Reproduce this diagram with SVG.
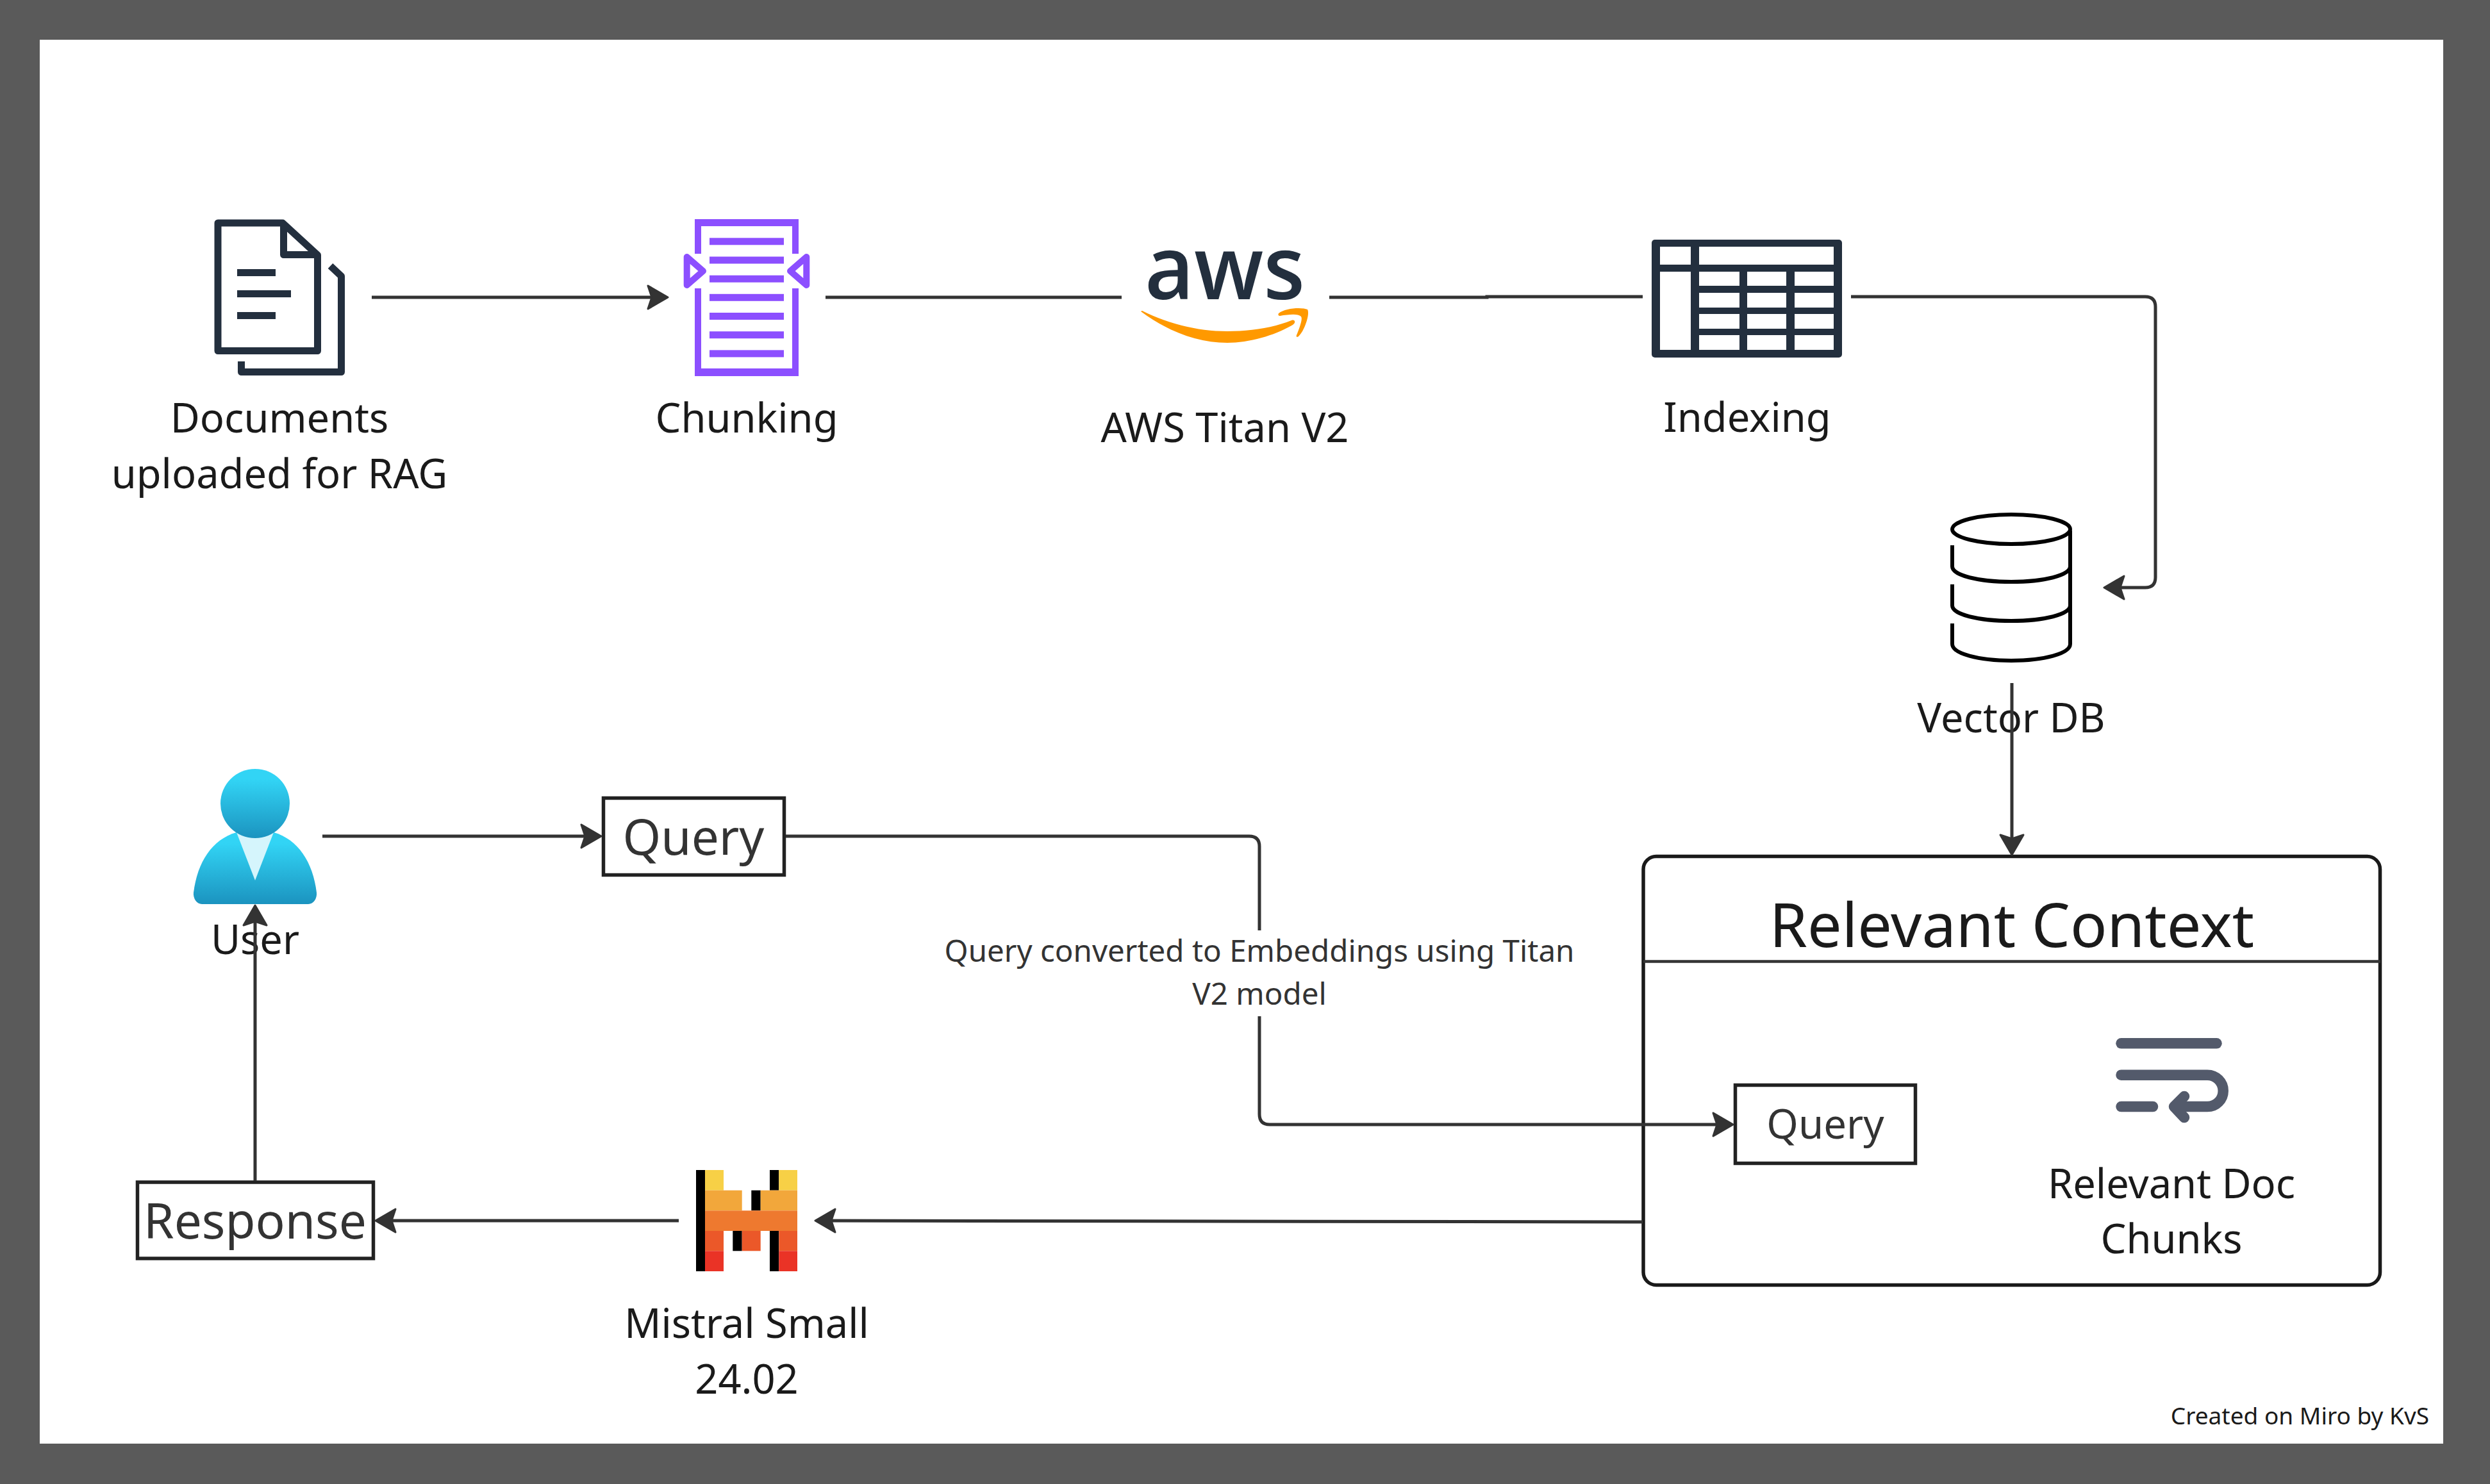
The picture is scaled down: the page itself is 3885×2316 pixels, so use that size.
<svg xmlns="http://www.w3.org/2000/svg" width="3885" height="2316" viewBox="0 0 3885 2316">
<style>
text{font-family:"Noto Sans","Open Sans","Liberation Sans",sans-serif;text-anchor:middle}
.lab{font-size:63.200px;fill:#1a1a1a}
.box{font-size:76.500px;fill:#333}
.bx{fill:#fff;stroke:#222;stroke-width:5.5}
.con{fill:none;stroke:#333;stroke-width:5}
.d{fill:#232F3E}
.ds{fill:none;stroke:#232F3E;stroke-width:11;stroke-linejoin:round}
.p{fill:#8C4FFF}
.ps{fill:none;stroke:#8C4FFF;stroke-width:10;stroke-linejoin:round}
.w{fill:#fff}
.db{fill:none;stroke:#000;stroke-width:6}
.ic{fill:none;stroke:#535A6B;stroke-width:16.5;stroke-linecap:round;stroke-linejoin:round}
</style>
<defs>
<marker id="arr" markerUnits="userSpaceOnUse" viewBox="0 0 36 42" markerWidth="36" markerHeight="42" refX="28" refY="21" orient="auto">
<path d="M2,3 L33,21 L2,39 L8,21Z" fill="#333" stroke="#333" stroke-width="3" stroke-linejoin="round"/>
</marker>
<linearGradient id="ug" x1="0" y1="0" x2="0" y2="1"><stop offset="0.15" stop-color="#32D4F5"/><stop offset="1" stop-color="#1B93BF"/></linearGradient>
</defs>
<rect width="3885" height="2316" fill="#5a5a5a"/>
<rect x="62" y="62" width="3750" height="2191" fill="#fff"/>

<g id="documents">
<path class="ds" d="M340,348 H441 L495.500,398 V547.500 H340Z"/>
<path class="ds" d="M442.500,350 V397.500 H495"/>
<path class="ds" d="M515.500,415 L532.500,431 V580.500 H376.500 V564"/>
<rect class="d" x="370" y="420" width="60" height="11"/>
<rect class="d" x="370" y="453" width="84" height="11"/>
<rect class="d" x="370" y="487" width="60" height="11"/>
<text class="lab" x="436" y="675">Documents</text>
<text class="lab" x="436" y="762">uploaded for RAG</text>
</g>

<g id="chunking">
<path class="p" d="M1084,396 V342 H1246 V396 H1236 V353 H1094 V396Z"/>
<path class="p" d="M1084,450 V587 H1246 V450 H1236 V575 H1094 V450Z"/>
<rect class="p" x="1107" y="371.300" width="116" height="11"/>
<rect class="p" x="1107" y="400.500" width="116" height="11"/>
<rect class="p" x="1107" y="429.700" width="116" height="11"/>
<rect class="p" x="1107" y="458.800" width="116" height="11"/>
<rect class="p" x="1107" y="488" width="116" height="11"/>
<rect class="p" x="1107" y="517.200" width="116" height="11"/>
<rect class="p" x="1107" y="546.400" width="116" height="11"/>
<path class="ps" d="M1071.700,401 V445 L1097,423Z"/>
<path class="ps" d="M1258.300,401 V445 L1233,423Z"/>
<text class="lab" x="1165" y="675">Chunking</text>
</g>

<g id="aws">
<text x="1911" y="467" font-size="138" font-weight="600" textLength="250" lengthAdjust="spacingAndGlyphs" style="font-family:'Open Sans','Noto Sans',sans-serif" fill="#232F3E">aws</text>
<path fill="#FF9900" d="M1780,486 C1822,517 1868,535 1915,535 C1950,535 1990,523 2017,507 C2022,504 2021,498 2015,500 C1985,512 1950,517 1915,517 C1868,517 1822,505 1782,485Z"/>
<path fill="#FF9900" d="M1995,489 C2005,481 2030,479 2040,483 C2044,490 2036,515 2026,525 C2023,527 2022,525 2023,523 C2027,513 2033,498 2030,494 C2025,489 2010,491 1997,493 C1994,493 1994,491 1995,489Z"/>
<text class="lab" x="1911" y="690">AWS Titan V2</text>
</g>

<g id="indexing">
<rect class="d" x="2577" y="374" width="297" height="184" rx="5"/>
<rect class="w" x="2590" y="385" width="48" height="28"/>
<rect class="w" x="2651" y="385" width="210" height="28"/>
<rect class="w" x="2590" y="424" width="48" height="122"/>
<g class="w">
<rect x="2651" y="424" width="63" height="22"/><rect x="2726" y="424" width="61" height="22"/><rect x="2800" y="424" width="61" height="22"/>
<rect x="2651" y="457" width="63" height="23"/><rect x="2726" y="457" width="61" height="23"/><rect x="2800" y="457" width="61" height="23"/>
<rect x="2651" y="490" width="63" height="23"/><rect x="2726" y="490" width="61" height="23"/><rect x="2800" y="490" width="61" height="23"/>
<rect x="2651" y="523" width="63" height="23"/><rect x="2726" y="523" width="61" height="23"/><rect x="2800" y="523" width="61" height="23"/>
</g>
<text class="lab" x="2726" y="674">Indexing</text>
</g>

<g id="vector-db">
<ellipse class="db" cx="3138" cy="826" rx="92" ry="23"/>
<path class="db" d="M3046,851 V884 C3046,898 3087,908 3138,908 C3189,908 3230,898 3230,884"/>
<path class="db" d="M3046,912 V945 C3046,959 3087,969 3138,969 C3189,969 3230,959 3230,945"/>
<path class="db" d="M3046,973 V1005 C3046,1020 3087,1031 3138,1031 C3189,1031 3230,1020 3230,1005 V828"/>
<text class="lab" x="3138" y="1143">Vector DB</text>
</g>

<g id="user">
<path fill="url(#ug)" d="M315,1411 H481 C489,1411 495,1402 494,1393 C488,1345 465,1310 427,1299 L369,1299 C331,1310 308,1345 302,1393 C301,1402 307,1411 315,1411Z"/>
<path fill="#D5F5FC" d="M369,1299 H427 L398,1374Z"/>
<circle cx="398" cy="1254" r="54" fill="url(#ug)"/>
<text class="lab" x="398" y="1489">User</text>
</g>

<g id="query-1">
<rect class="bx" x="941.500" y="1245.500" width="282" height="120"/>
<text class="box" x="1082" y="1334">Query</text>
</g>

<g id="response">
<rect class="bx" x="214.500" y="1845" width="368" height="119"/>
<text class="box" x="398" y="1933">Response</text>
</g>

<g id="mistral">
<rect fill="#000" x="1086" y="1826" width="14" height="158"/>
<rect fill="#000" x="1201" y="1826" width="14.300" height="31.700"/>
<rect fill="#000" x="1172.300" y="1857.700" width="14.400" height="31.600"/>
<rect fill="#000" x="1143.300" y="1921" width="14.400" height="31.300"/>
<rect fill="#000" x="1201" y="1921" width="14.300" height="63"/>
<rect fill="#F7D046" x="1100" y="1826" width="29" height="31.700"/>
<rect fill="#F7D046" x="1215.300" y="1826" width="28.700" height="31.700"/>
<rect fill="#F2A73B" x="1100" y="1857.700" width="57.700" height="31.600"/>
<rect fill="#F2A73B" x="1186.700" y="1857.700" width="57.300" height="31.600"/>
<rect fill="#EE792F" x="1100" y="1889.300" width="144" height="31.700"/>
<rect fill="#EB5829" x="1100" y="1921" width="29" height="31.300"/>
<rect fill="#EB5829" x="1157.700" y="1921" width="29" height="31.300"/>
<rect fill="#EB5829" x="1215.300" y="1921" width="28.700" height="31.300"/>
<rect fill="#EA3326" x="1100" y="1952.300" width="29" height="31.700"/>
<rect fill="#EA3326" x="1215.300" y="1952.300" width="28.700" height="31.700"/>
<text class="lab" x="1165" y="2088">Mistral Small</text>
<text class="lab" x="1165" y="2175">24.02</text>
</g>

<g id="relevant-context">
<rect x="2564" y="1336.500" width="1149.500" height="669" rx="20" fill="#fff" stroke="#1a1a1a" stroke-width="5.500"/>
<path d="M2564,1500.500 H3714" stroke="#333" stroke-width="4.500" fill="none"/>
<text x="3139" y="1478" font-size="95.200" fill="#1a1a1a">Relevant Context</text>
</g>

<g id="query-2">
<rect class="bx" x="2707.500" y="1693.500" width="281" height="122"/>
<text x="2848" y="1777" font-size="63.500" fill="#333">Query</text>
</g>

<g id="doc-chunks">
<path class="ic" d="M3309.500,1628.300 H3458.500"/>
<path class="ic" d="M3309.500,1677.700 H3444 a24.700,24.700 0 0 1 0,49.400 H3393"/>
<path class="ic" d="M3309.500,1727.100 H3359"/>
<path class="ic" d="M3408,1711 L3392,1727.100 L3408,1744"/>
<text class="lab" x="3388" y="1870">Relevant Doc</text>
<text class="lab" x="3388" y="1956">Chunks</text>
</g>

<g id="connectors">
<path class="con" marker-end="url(#arr)" d="M580,464 H1037"/>
<path class="con" d="M1288,464 H1750"/>
<path class="con" d="M2074,464 H2320 V463 H2563"/>
<path class="con" marker-end="url(#arr)" d="M2888,463 H3347 Q3363,463 3363,479 V901 Q3363,917 3347,917 H3288"/>
<path class="con" marker-end="url(#arr)" d="M3139,1066 V1329"/>
<path class="con" marker-end="url(#arr)" d="M503,1305 H933"/>
<path class="con" marker-end="url(#arr)" d="M1226,1305 H1949 Q1965,1305 1965,1321 V1739 Q1965,1755 1981,1755 H2699"/>
<path class="con" marker-end="url(#arr)" d="M2563,1907 L1277,1905"/>
<path class="con" marker-end="url(#arr)" d="M1059,1905 H591"/>
<path class="con" marker-end="url(#arr)" d="M398,1843 V1418"/>
<rect x="1465" y="1452" width="1000" height="134" fill="#fff"/>
<text x="1965" y="1501" font-size="47.500" fill="#333">Query converted to Embeddings using Titan</text>
<text x="1965" y="1568" font-size="47.500" fill="#333">V2 model</text>
</g>

<text x="3790" y="2223" font-size="37" fill="#1a1a1a" style="text-anchor:end">Created on Miro by KvS</text>
</svg>
